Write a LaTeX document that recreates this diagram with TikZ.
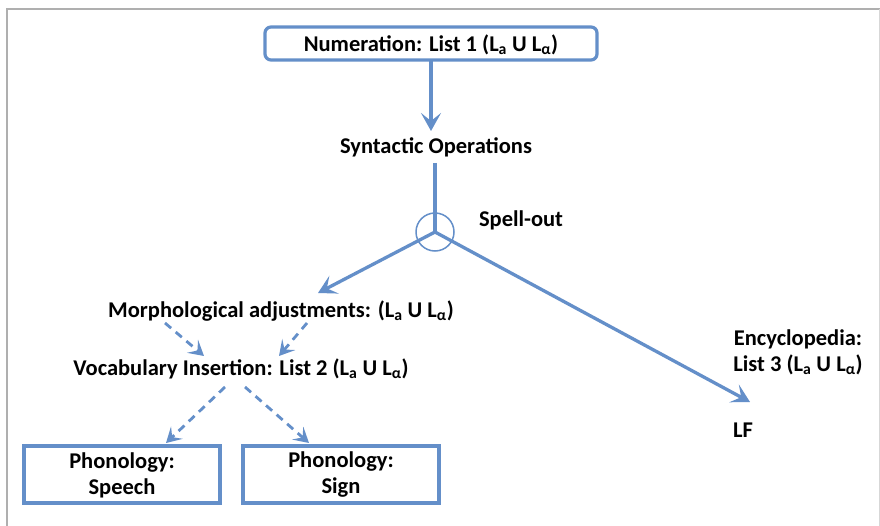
\documentclass[tikz,border=0pt]{standalone}
\usepackage{fontspec}
\setmainfont{Carlito}
\usetikzlibrary{arrows.meta}
\definecolor{lineblue}{RGB}{100,143,201}
\definecolor{frame}{RGB}{175,175,175}
\newcommand{\LaLal}{(L\textsubscript{a} U L\textsubscript{α})}
\tikzset{
  lbl/.style={font=\fontsize{22.5}{26}\selectfont\bfseries, inner sep=0pt, align=center},
  boxed/.style={draw=lineblue, line width=3.2pt, inner sep=0pt},
  solidarr/.style={draw=lineblue, line width=3.3pt, -{Stealth[length=18pt,width=20pt,inset=8pt]}},
  dasharr/.style={draw=lineblue, line width=2.8pt, dash pattern=on 8pt off 6pt, -{Stealth[length=15pt,width=17pt,inset=6.5pt]}},
}
\begin{document}
\begin{tikzpicture}[x=1pt,y=-1pt]
\useasboundingbox (0,0) rectangle (880,526);
\fill[white] (0,0) rectangle (880,526);
% outer frame
\draw[frame, line width=2pt] (7,526) -- (7,9) -- (880,9);
\draw[frame!50, line width=1pt] (879,9) -- (879,526);
% numeration box
\draw[boxed, rounded corners=6pt] (265,27) rectangle (597,60);
\node[lbl] (num) at (431,45) {Numeration: List 1 \LaLal};
\coordinate (numbot) at (431,61);
\node[lbl] (syn) at (436,147) {Syntactic Operations};
\coordinate (synbot) at (435,163);
\coordinate (so) at (435,232);
\node[draw=lineblue, line width=1.5pt, circle, minimum size=38pt, inner sep=0pt] (circ) at (so) {};
\node[lbl] (spell) at (521,220) {Spell-out};
\node[lbl] (morph) at (281,311) {Morphological adjustments: \LaLal};
\node[lbl] (voc) at (241,369) {Vocabulary Insertion: List 2 \LaLal};
\node[lbl] (ency) at (798,352) {Encyclopedia:\\List 3 \LaLal};
\node[lbl] (lf) at (743,430) {LF};
% phonology boxes
\draw[boxed] (24,446) rectangle (220,503);
\node[lbl] (speech) at (122,475) {Phonology:\\Speech};
\draw[boxed] (243,446) rectangle (439,503);
\node[lbl] (sign) at (341,475) {Phonology:\\Sign};
% connectors
\coordinate (numtip) at (431,131);
\draw[solidarr] (numbot) -- (numtip);
\draw[draw=lineblue, line width=3.3pt] (synbot) -- (so);
\coordinate (morphtip) at (318,293);
\coordinate (lftip) at (750,402);
\draw[solidarr] (so) -- (morphtip);
\draw[solidarr] (so) -- (lftip);
\coordinate (m1s) at (165,323); \coordinate (m1e) at (204,356);
\coordinate (m2s) at (307,323); \coordinate (m2e) at (279,356);
\coordinate (v1s) at (225,387); \coordinate (v1e) at (166,443);
\coordinate (v2s) at (245,387); \coordinate (v2e) at (309,443);
\draw[dasharr] (m1s) -- (m1e);
\draw[dasharr] (m2s) -- (m2e);
\draw[dasharr] (v1s) -- (v1e);
\draw[dasharr] (v2s) -- (v2e);
\end{tikzpicture}
\end{document}
